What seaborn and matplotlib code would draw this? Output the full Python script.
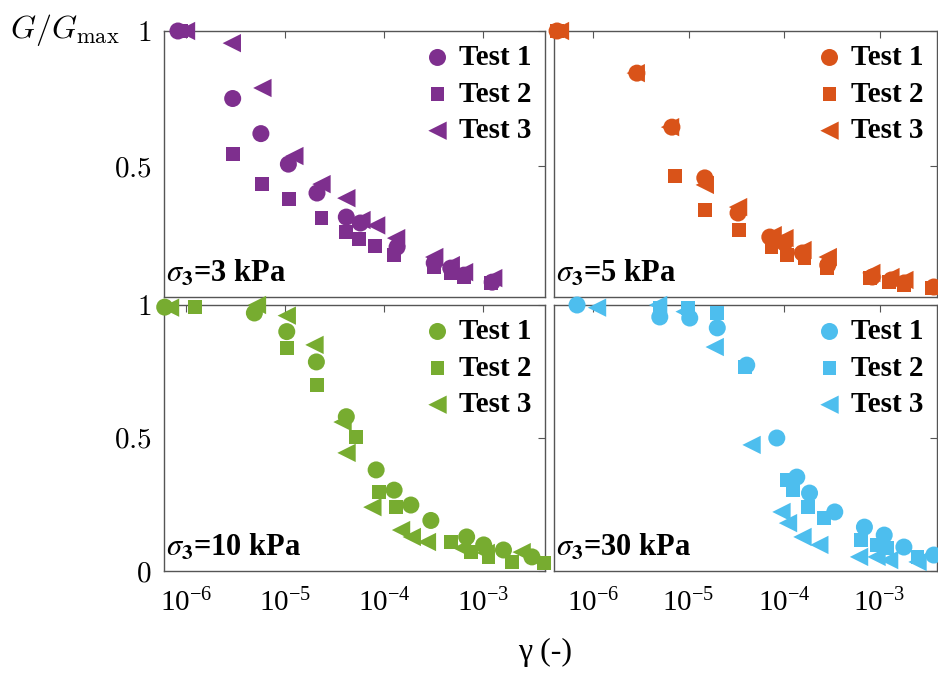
import numpy as np
import pandas as pd
import matplotlib
matplotlib.use('Agg')
import matplotlib.pyplot as plt
import matplotlib.ticker as mtick
import seaborn as sns

# values: shear strain gamma (-) vs G/Gmax
tests = ['Test 1', 'Test 2', 'Test 3']
markers = ['o', 's', '<']
msizes = [150, 100, 175]

# sigma3 = 3 kPa
p3_t1_x = [8.3e-7, 2.96e-6, 5.7e-6, 1.08e-5, 2.1e-5, 4.15e-5, 5.75e-5, 1.35e-4, 3.2e-4, 4.7e-4, 6.4e-4, 1.23e-3]
p3_t1_y = [1.0, 0.75, 0.62, 0.507, 0.40, 0.311, 0.289, 0.20, 0.141, 0.122, 0.096, 0.07]
p3_t2_x = [9.0e-7, 2.96e-6, 5.8e-6, 1.1e-5, 2.33e-5, 4.15e-5, 5.6e-5, 8.1e-5, 1.26e-4, 3.2e-4, 4.7e-4, 6.4e-4, 1.2e-3]
p3_t2_y = [1.0, 0.544, 0.433, 0.378, 0.307, 0.256, 0.23, 0.204, 0.17, 0.126, 0.104, 0.089, 0.067]
p3_t3_x = [1.0e-6, 2.9e-6, 5.9e-6, 1.24e-5, 2.33e-5, 4.15e-5, 5.9e-5, 8.3e-5, 1.32e-4, 3.2e-4, 4.7e-4, 6.4e-4, 1.26e-3]
p3_t3_y = [1.0, 0.955, 0.789, 0.537, 0.433, 0.381, 0.30, 0.28, 0.233, 0.163, 0.133, 0.107, 0.085]

# sigma3 = 5 kPa
p5_t1_x = [4.2e-7, 2.88e-6, 6.7e-6, 1.48e-5, 3.3e-5, 7.1e-5, 1.01e-4, 1.56e-4, 2.87e-4, 8.4e-4, 1.33e-3, 1.82e-3, 3.7e-3]
p5_t1_y = [1.0, 0.844, 0.644, 0.456, 0.326, 0.237, 0.215, 0.178, 0.133, 0.089, 0.078, 0.067, 0.052]
p5_t2_x = [4.2e-7, 7.2e-6, 1.5e-5, 3.4e-5, 7.4e-5, 1.07e-4, 1.64e-4, 2.8e-4, 7.9e-4, 1.27e-3, 1.82e-3, 3.57e-3]
p5_t2_y = [1.0, 0.463, 0.337, 0.263, 0.20, 0.17, 0.159, 0.122, 0.085, 0.07, 0.059, 0.048]
p5_t3_x = [4.5e-7, 2.8e-6, 6.4e-6, 1.48e-5, 3.3e-5, 7.6e-5, 1.01e-4, 1.56e-4, 2.87e-4, 8.2e-4, 1.3e-3, 1.82e-3]
p5_t3_y = [1.0, 0.844, 0.644, 0.43, 0.348, 0.244, 0.233, 0.189, 0.163, 0.104, 0.089, 0.078]

# sigma3 = 10 kPa
p10_t1_x = [6.1e-7, 4.9e-6, 1.04e-5, 2.07e-5, 4.15e-5, 8.3e-5, 1.26e-4, 1.86e-4, 2.96e-4, 6.8e-4, 1.01e-3, 1.6e-3, 3.1e-3]
p10_t1_y = [0.992, 0.97, 0.90, 0.786, 0.58, 0.38, 0.304, 0.248, 0.19, 0.128, 0.098, 0.079, 0.053]
p10_t2_x = [1.23e-6, 1.04e-5, 2.1e-5, 5.2e-5, 8.9e-5, 1.32e-4, 4.7e-4, 7.5e-4, 1.13e-3, 1.94e-3, 4.07e-3]
p10_t2_y = [0.992, 0.838, 0.70, 0.504, 0.297, 0.24, 0.109, 0.071, 0.053, 0.034, 0.03]
p10_t3_x = [6.9e-7, 5.2e-6, 1.04e-5, 1.98e-5, 3.8e-5, 4.17e-5, 7.6e-5, 1.48e-4, 1.9e-4, 2.7e-4, 6.1e-4, 1.06e-3, 2.44e-3]
p10_t3_y = [0.99, 1.0, 0.96, 0.85, 0.56, 0.444, 0.24, 0.154, 0.128, 0.109, 0.086, 0.068, 0.071]

# sigma3 = 30 kPa
p30_t1_x = [6.8e-7, 5.0e-6, 1.03e-5, 2.0e-5, 4.07e-5, 8.4e-5, 1.36e-4, 1.85e-4, 3.4e-4, 6.95e-4, 1.12e-3, 1.8e-3, 3.7e-3]
p30_t1_y = [1.0, 0.955, 0.951, 0.914, 0.774, 0.50, 0.353, 0.293, 0.222, 0.165, 0.135, 0.09, 0.06]
p30_t2_x = [5.0e-6, 9.8e-6, 1.98e-5, 3.9e-5, 1.07e-4, 1.23e-4, 1.77e-4, 2.65e-4, 6.4e-4, 9.5e-4, 1.2e-3, 2.5e-3]
p30_t2_y = [0.99, 0.99, 0.97, 0.767, 0.342, 0.304, 0.24, 0.20, 0.117, 0.098, 0.086, 0.053]
p30_t3_x = [1.1e-6, 4.8e-6, 9.1e-6, 1.88e-5, 4.57e-5, 9.4e-5, 1.1e-4, 1.56e-4, 2.34e-4, 6.1e-4, 9.3e-4, 1.26e-3, 2.5e-3]
p30_t3_y = [0.99, 1.0, 0.975, 0.842, 0.474, 0.222, 0.18, 0.128, 0.098, 0.053, 0.053, 0.041, 0.034]

panels = [
    ('3', '#7E2F8E', [(p3_t1_x, p3_t1_y), (p3_t2_x, p3_t2_y), (p3_t3_x, p3_t3_y)]),
    ('5', '#D95319', [(p5_t1_x, p5_t1_y), (p5_t2_x, p5_t2_y), (p5_t3_x, p5_t3_y)]),
    ('10', '#77AC30', [(p10_t1_x, p10_t1_y), (p10_t2_x, p10_t2_y), (p10_t3_x, p10_t3_y)]),
    ('30', '#4DBEEE', [(p30_t1_x, p30_t1_y), (p30_t2_x, p30_t2_y), (p30_t3_x, p30_t3_y)]),
]

sns.set_theme(style='white')
plt.rcParams['font.family'] = ['Liberation Serif', 'DejaVu Serif']
plt.rcParams['mathtext.fontset'] = 'cm'
plt.rcParams['axes.edgecolor'] = '#555555'
plt.rcParams['axes.linewidth'] = 1.0
plt.rcParams['text.color'] = 'black'
plt.rcParams['xtick.color'] = 'black'
plt.rcParams['ytick.color'] = 'black'

fig = plt.figure(figsize=(9.38, 6.78), dpi=100)
W, H = 938, 678
# axes boxes in pixels (left, top, right, bottom)
boxes = [(164, 31, 545, 297), (554, 31, 937, 297), (164, 305, 545, 571), (554, 305, 937, 571)]
xlims = [(6.0e-7, 4.2e-3), (3.9e-7, 4.0e-3), (6.0e-7, 4.2e-3), (3.9e-7, 4.0e-3)]
ylims = [(0.015, 1), (0.015, 1), (0, 1), (0, 1)]

xfmt = mtick.FuncFormatter(lambda v, p: r'$\mathregular{10^{%d}}$' % round(np.log10(v)))

for i, (sig, col, series) in enumerate(panels):
    l, t, r, b = boxes[i]
    ax = fig.add_axes([l / W, 1 - b / H, (r - l) / W, (b - t) / H])
    for name, m, sz, (xs, ys) in zip(tests, markers, msizes, series):
        df = pd.DataFrame({'strain': xs, 'ratio': ys})
        sns.scatterplot(data=df, x='strain', y='ratio', marker=m, s=sz, color=col,
                        edgecolor='none', linewidth=0, label=name, ax=ax, clip_on=False, zorder=3)
    ax.set_xscale('log')
    ax.set_xlim(*xlims[i])
    ax.set_ylim(*ylims[i])
    ax.set_xlabel('')
    ax.set_ylabel('')
    ax.xaxis.set_major_locator(mtick.FixedLocator([1e-6, 1e-5, 1e-4, 1e-3]))
    ax.xaxis.set_minor_locator(mtick.NullLocator())
    ax.tick_params(direction='in', length=5, width=0.8, color='#555555',
                   top=True, right=True, labelsize=21, pad=9)
    ax.tick_params(axis='x', pad=13)
    if i < 2:
        ax.set_yticks([0.5, 1])
        ax.set_xticklabels([])
    else:
        ax.set_yticks([0, 0.5, 1])
        ax.xaxis.set_major_formatter(xfmt)
        for lab in ax.get_xticklabels():
            lab.set_fontsize(21)
    if i % 2 == 0:
        ax.yaxis.set_major_formatter(mtick.FixedFormatter(
            ['$0.5$', '$1$'] if i < 2 else ['$0$', '$0.5$', '$1$']))
    else:
        ax.set_yticklabels([])
    ax.text(0.005, 0.03, r'$\sigma_{\mathbf{3}}$=' + sig + ' kPa', transform=ax.transAxes,
            fontsize=22, fontweight='bold', math_fontfamily='stix', ha='left', va='bottom')
    ax.legend(loc='upper right', frameon=False, prop={'size': 21, 'weight': 'bold'},
              handlelength=1.0, handletextpad=0.25, labelspacing=0.33,
              borderaxespad=0.2, borderpad=0.25)

fig.text(10 / W, 1 - 30 / H, r'$G/G_{\rm max}$', fontsize=23, ha='left', va='center')
fig.text(545 / W, 1 - 652 / H, 'γ (-)', fontsize=23, ha='center', va='center')

plt.savefig('out.png', dpi=100)
